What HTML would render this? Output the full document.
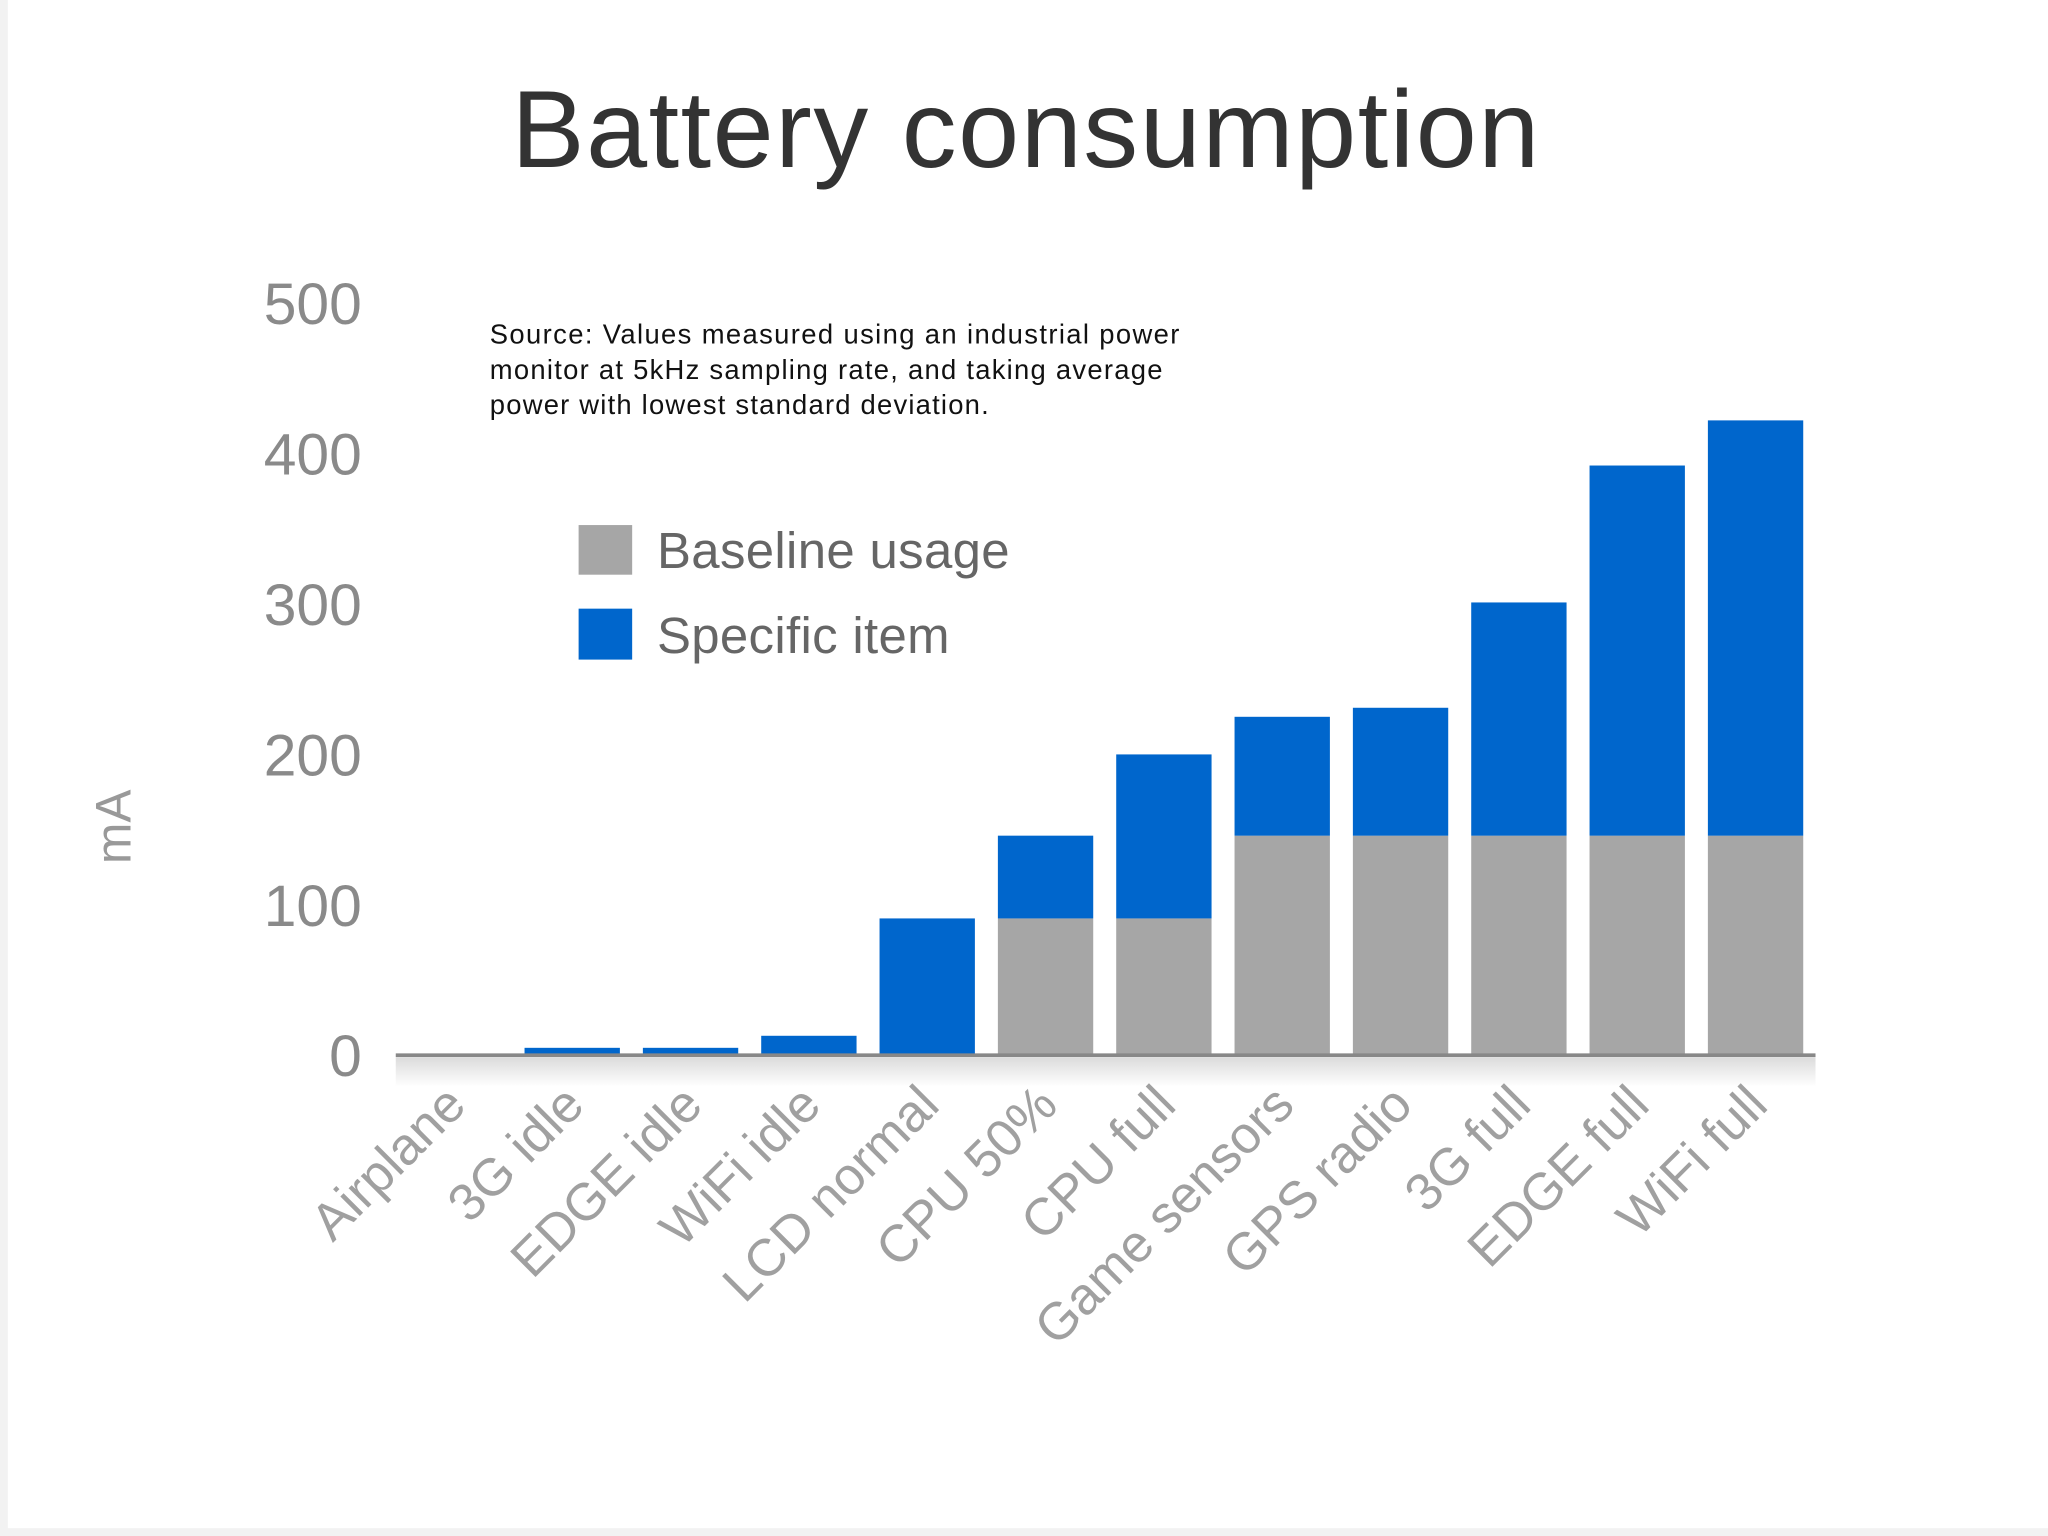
<!DOCTYPE html>
<html><head><meta charset="utf-8"><style>
html,body{margin:0;padding:0;background:#fff;}
svg{display:block;font-family:"Liberation Sans",sans-serif;}
</style></head><body>
<svg id="chart" width="2048" height="1536" viewBox="0 0 1568 1176" xmlns="http://www.w3.org/2000/svg">
<defs><linearGradient id="sh" x1="0" y1="0" x2="0" y2="1"><stop offset="0" stop-color="#dcdcdc"/><stop offset="1" stop-color="#ffffff"/></linearGradient></defs>
<rect x="0" y="0" width="1568" height="1176" fill="#f2f2f2"/>
<rect x="6" y="0" width="1562" height="1170" fill="#ffffff"/>
<text x="785" y="128" text-anchor="middle" font-size="84" fill="#333" textLength="787">Battery consumption</text>
<g id="yticks"></g>
<text transform="translate(100,633) rotate(-90)" text-anchor="middle" font-size="38" fill="#999">mA</text>
<g font-size="21" fill="#111">
<text x="375" y="263" textLength="528">Source: Values measured using an industrial power</text>
<text x="375" y="290" textLength="515">monitor at 5kHz sampling rate, and taking average</text>
<text x="375" y="317" textLength="382">power with lowest standard deviation.</text>
</g>
<g id="bars"></g>
<rect x="303" y="810" width="1087" height="22" fill="url(#sh)"/>
<line x1="303" y1="808" x2="1390" y2="808" stroke="#888" stroke-width="3"/>
<g id="xlabels"></g>
<g>
<rect x="443" y="402" width="41" height="38" fill="#a6a6a6"/>
<text x="503" y="435" font-size="39" fill="#666" textLength="270">Baseline usage</text>
<rect x="443" y="466" width="41" height="39" fill="#0066cc"/>
<text x="503" y="500" font-size="39" fill="#666" textLength="224">Specific item</text>
</g>
</svg>
<script>
const categories=["Airplane","3G idle","EDGE idle","WiFi idle","LCD normal","CPU 50%","CPU full","Game sensors","GPS radio","3G full","EDGE full","WiFi full"];
const baseline=[0,0,0,0,0,91,91,146,146,146,146,146];
const specific=[1,5,5,13,91,55,109,79,85,155,246,276];
const yTicks=[0,100,200,300,400,500];
const NS="http://www.w3.org/2000/svg";
const y0=808, pxPer=1.152, x0=303, step=90.6, bw=73;
function yScale(v){return y0-v*pxPer;}
function xScale(i){return x0+8+i*step;}
const yt=document.getElementById('yticks');
yTicks.forEach(t=>{const e=document.createElementNS(NS,'text');


e.setAttribute('x',277);e.setAttribute('y',yScale(t)+16);e.setAttribute('text-anchor','end');
e.setAttribute('font-size','45');e.setAttribute('fill','#8a8a8a');e.textContent=t;yt.appendChild(e);});
const bars=document.getElementById('bars'), xl=document.getElementById('xlabels');
categories.forEach((c,i)=>{
 const x=xScale(i);
 if(baseline[i]>0){const r=document.createElementNS(NS,'rect');
 
 
 r.setAttribute('x',x);r.setAttribute('width',bw);r.setAttribute('y',yScale(baseline[i]));r.setAttribute('height',baseline[i]*pxPer);r.setAttribute('fill','#a6a6a6');bars.appendChild(r);}
 const s=document.createElementNS(NS,'rect');
 
 
 s.setAttribute('x',x);s.setAttribute('width',bw);s.setAttribute('y',yScale(baseline[i]+specific[i]));s.setAttribute('height',specific[i]*pxPer);s.setAttribute('fill','#0066cc');bars.appendChild(s);
 const l=document.createElementNS(NS,'text');
 
 
 const cx=x+bw/2+11, cy=848;
 l.setAttribute('transform','translate('+cx+','+cy+') rotate(-45)');
 l.setAttribute('text-anchor','end');l.setAttribute('font-size','40');l.setAttribute('fill','#a0a0a0');
 l.textContent=c;xl.appendChild(l);
});
</script>
</body></html>
